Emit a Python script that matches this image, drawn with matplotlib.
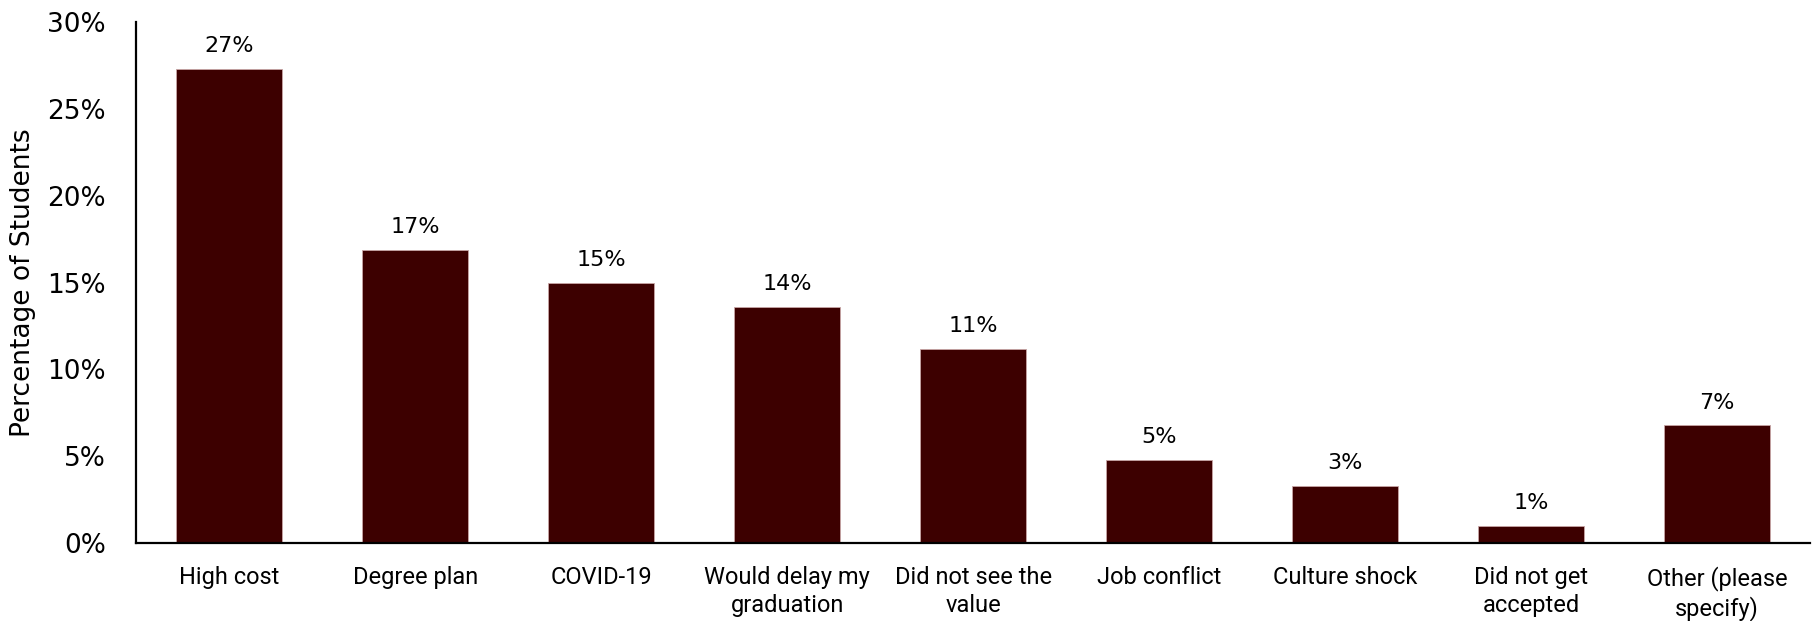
import matplotlib.pyplot as plt
from matplotlib import font_manager

categories = ['High cost', 'Degree plan', 'COVID-19', 'Would delay my\ngraduation',
              'Did not see the\nvalue', 'Job conflict', 'Culture shock',
              'Did not get\naccepted', 'Other (please\nspecify)']
values = [27.3, 16.9, 15.0, 13.6, 11.2, 4.8, 3.3, 1.0, 6.8]
value_labels = ['27%', '17%', '15%', '14%', '11%', '5%', '3%', '1%', '7%']
y_ticks = [0, 5, 10, 15, 20, 25, 30]

names = {f.name for f in font_manager.fontManager.ttflist}
narrow = 'Liberation Sans Narrow' if 'Liberation Sans Narrow' in names else 'Roboto'

fig, ax = plt.subplots(figsize=(18.19, 6.21), dpi=100)
fig.subplots_adjust(left=0.075, right=0.995, top=0.965, bottom=0.125)

x = range(len(categories))
ax.bar(x, values, width=0.57, color='#3d0000', edgecolor='#c8a5a5', linewidth=0.6)
for xi, v, lab in zip(x, values, value_labels):
    ax.annotate(lab, (xi, v), xytext=(0, 9), textcoords='offset points',
                ha='center', va='bottom', fontsize=16, family='DejaVu Sans')

ax.set_xlim(-0.5, 8.5)
ax.set_ylim(0, 30)
ax.set_yticks(y_ticks)
ax.set_yticklabels([f'{t}%' for t in y_ticks], fontsize=19, family='DejaVu Sans')
ax.set_xticks(list(x))
ax.set_xticklabels(categories, fontsize=17, family=narrow, linespacing=1.3)
ax.set_ylabel('Percentage of Students', fontsize=19, family='DejaVu Sans', labelpad=8)
ax.tick_params(length=0, pad=16)
ax.tick_params(axis='y', pad=22)
for s in ['top', 'right']:
    ax.spines[s].set_visible(False)
for s in ['left', 'bottom']:
    ax.spines[s].set_linewidth(1.6)

fig.savefig('out.png', dpi=100)
plt.close(fig)
